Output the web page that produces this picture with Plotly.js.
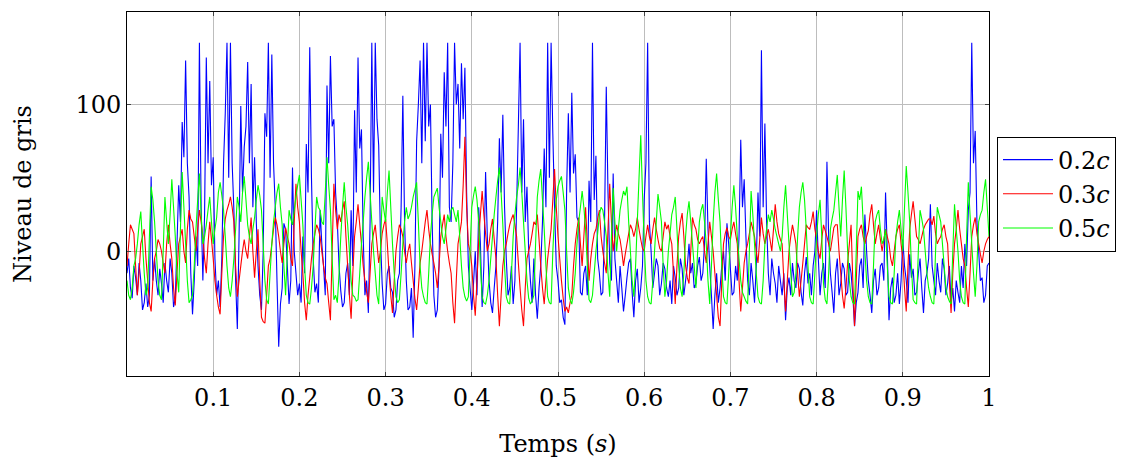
<!DOCTYPE html>
<html>
<head>
<meta charset="utf-8">
<script src="https://cdn.plot.ly/plotly-3.0.1.min.js"></script>
<style>
html,body{margin:0;padding:0;background:#fff;}
#chart{width:1123px;height:460px;}
</style>
</head>
<body>
<div id="chart"></div>
<script>
// Series values (Niveau de gris), sampled uniformly over 0..1 s (501 samples each)
const seriesNames = ["0.2<i>c</i>", "0.3<i>c</i>", "0.5<i>c</i>"];
const seriesColors = ["#0000ff", "#ff0000", "#00ff00"];

const blue = [
  -15, -5, -25, -32, -10, -18, -30, -8, -20, -40, -35, -22, -38, -30, 51, -20, -5, -20, -30, -12,
  -22, -35, -8, -20, -28, -5, -15, -38, -32, 5, 45, 20, 88, 64, 130, 60, 37, -15, -43, -20,
  10, -10, 142, 30, -20, 25, 132, 60, 116, 45, 64, -5, -30, -20, -38, -5, 60, 94, 142, 50,
  142, 60, 28, -20, -53, 10, 99, 40, 71, 85, 129, 60, 114, 30, 64, 20, -10, -30, -40, 0,
  94, 78, 142, 50, 134, 60, 30, -20, -65, -36, -25, 19, 15, -10, -36, -20, 57, 0, -15, -30,
  -22, -35, 10, -15, 73, 40, 139, 50, -5, -28, -22, -35, 28, 5, -10, -30, 113, 60, 133, 85,
  90, 40, 20, -10, -27, -38, -35, -15, -8, -30, 28, -10, 96, 40, 132, 70, 83, 10, -30, -20,
  -42, 20, 142, 40, 142, 90, 72, 10, -22, -40, -36, -15, -10, -25, -28, -45, -40, -20, -15, 30,
  106, 20, -20, -40, -38, -25, -59, -10, 75, 100, 130, 60, 142, 75, 142, 85, 100, 20, -30, -45,
  -40, -10, 80, 50, 122, 85, 142, 30, 20, 60, 142, 100, 114, 70, 128, 90, 125, 40, -10, -25,
  -40, -22, 0, -30, 30, 5, -38, -10, 54, 10, -20, -35, -42, -25, -10, 20, 77, 40, 93, 30,
  -5, -30, -25, -10, -36, -20, 30, 85, 142, 40, 90, 20, 44, 0, -20, -35, -5, -30, -46, -25,
  -10, 20, 70, 30, 142, 50, 142, 80, 30, -10, -20, -35, -33, -45, -50, 41, 94, 40, 108, 53,
  66, 23, 20, -28, -30, -15, -10, -30, 48, 20, 142, 35, 65, -5, -15, -30, -28, 20, 112, 40,
  -8, -20, 53, -5, -20, -35, -10, -25, -41, -30, -18, -8, -5, -28, -45, -20, -12, -35, -25, -10,
  35, 60, 142, 20, 0, -25, -15, -5, -10, -30, -22, -8, -12, -25, -31, -20, -36, -10, -18, -30,
  -25, -5, -12, -30, -20, -10, 5, -15, -8, -25, -22, -10, -4, -20, -15, 5, 63, 15, -10, -30,
  -53, -30, -15, -35, -25, -10, 0, -20, 19, 5, -12, -30, -28, -10, -20, 10, 76, 30, 49, 10,
  -20, -30, -8, -20, -35, -10, 40, 10, 137, 30, 87, 20, -15, -30, -5, -15, -22, -35, -10, -20,
  -30, -15, -47, -25, -18, -30, -8, -20, -25, -8, -12, -28, -37, -15, -4, -22, -15, -30, -10, 0,
  28, -5, -30, -15, -8, -25, 61, 10, -15, -28, -42, -15, -5, -30, -22, -8, -12, -30, -28, -8,
  -15, -30, -51, -35, -28, -10, -5, -25, 25, 0, -20, -30, -42, -20, -12, -30, -25, -10, -8, -20,
  40, 0, -47, -25, -18, -35, -30, -15, -36, -20, 8, -10, -20, -35, -2, -18, -12, -30, -28, -15,
  -5, -25, -42, -20, -15, -5, 32, -10, -20, -30, -8, -20, -28, -5, -12, -30, -22, -10, -35, -25,
  -41, -20, -28, -35, -10, -25, 5, -10, 28, 40, 142, 60, 82, 20, 0, -20, -18, -35, -30, -10, -8
];

const red = [
  -10, 5, 18, 15, 12, -10, -30, -15, 5, 10, 15, -5, -20, -35, -41, -20, -5, 0, 8, 5,
  0, -8, -15, 5, 18, 5, -5, -25, -37, -15, 5, 10, 15, 0, -8, 15, 28, 22, 20, 10,
  0, 15, 28, 20, 10, -5, -15, 5, 20, 8, -5, -20, -30, -38, -43, -15, 10, 22, 28, 32,
  37, 30, 20, -10, -31, -20, -10, 0, 8, 0, -5, 10, 23, 0, -18, 0, 15, -20, -45, -48,
  -49, -30, -10, -5, 5, 15, 23, 18, 10, 0, -8, 5, 16, 10, 5, -5, -10, 20, 46, 30,
  20, 0, -15, -35, -47, -30, -18, -5, 5, 12, 18, 15, 10, 0, -10, -18, -22, -35, -47, 0,
  46, 28, 15, 25, 20, 28, 34, 10, -10, -30, -46, -15, 10, 20, 32, 18, 5, -10, -20, -28,
  -35, -15, 5, 12, 18, 5, -8, 0, 12, 18, 22, 5, -15, -30, -42, -20, 0, 10, 18, 15,
  10, 0, -8, 0, 5, -8, -20, -32, -40, -25, -8, 0, 10, 20, 28, 15, 5, -2, -8, -15,
  -25, -10, 10, 18, 25, 10, 0, -8, -15, -35, -49, -20, 5, 12, 20, 45, 78, 30, 5, 0,
  -10, -30, -44, -20, 8, 25, 41, 25, 12, 0, 5, 15, 22, 8, -5, -30, -51, -30, -10, 0,
  5, 12, 18, 22, 25, 18, 10, -8, -25, -40, -51, -25, -5, 0, 5, 12, 20, 18, 25, 8,
  -10, -25, -36, -20, -5, 5, 15, 35, 56, 30, 10, -5, -20, -32, -41, -38, -42, -35, -30, -10,
  5, 15, 23, 5, -10, 10, 30, 5, -20, -5, 5, 12, 15, 22, 28, 10, 0, -8, -15, 15,
  46, 20, 0, 10, 18, 12, 8, 0, -10, -2, 5, 12, 18, 15, 10, 15, 23, 15, 8, 2,
  0, 10, 18, 10, 5, 15, 23, 15, 8, 2, 0, 10, 20, 15, 18, 10, 5, -15, -36, -10,
  10, 20, 26, 10, -10, -18, -22, 0, 23, 18, 15, 8, 5, 8, 10, 0, -8, 5, 20, 10,
  0, -15, -30, -45, -51, -20, 5, 12, 16, 10, 8, 15, 20, 12, 5, -20, -41, -25, -8, 0,
  5, 12, 20, 15, 10, 0, -8, 8, 23, 12, 5, 10, 15, 8, 0, 15, 32, 20, 12, 8,
  5, -20, -41, -20, 0, 10, 18, 12, 5, -15, -31, -20, -8, 5, 18, 16, 15, 20, 27, 15,
  8, 0, -5, 8, 18, 14, 10, 5, 0, 8, 16, 18, 18, 0, -15, -30, -39, -25, -8, 5,
  18, -20, -51, -20, 10, 15, 18, 10, 5, 10, 14, 25, 32, 18, 5, 12, 18, 8, 0, 8,
  15, 10, 5, -5, -10, 0, 10, 15, 18, 5, -5, -25, -41, -10, 15, 25, 34, 22, 10, 8,
  5, 10, 15, 18, 20, 22, 22, 18, 24, 12, 5, 8, 10, 15, 18, 10, 5, -20, -42, -15,
  5, 15, 28, 15, 5, -5, -10, -25, -38, -15, 10, 18, 23, 12, 5, -2, -8, 0, 5, 8, 10
];

const green = [
  -20, -30, -33, -25, -10, -5, 5, 18, 27, 5, -15, -30, -25, 10, 44, 35, 20, 0, -20, -30,
  -33, 0, 37, 20, 5, 25, 49, 30, 10, -15, -28, 15, 54, 30, 5, -20, -35, -33, -30, -10,
  15, 35, 53, 25, 5, 10, 18, 28, 37, 20, 5, 15, 23, 40, 47, 38, 28, 10, -10, -25,
  -31, -20, -5, 15, 37, 30, 20, 40, 51, 35, 18, 10, 5, 15, 23, 35, 45, 38, 28, 5,
  -20, -33, -36, -15, 5, 20, 30, 40, 46, 30, 18, -10, -30, 0, 28, 22, 18, 28, 37, 45,
  52, 35, 18, -10, -30, -35, -36, -25, -10, 15, 37, 30, 28, 20, 18, 40, 64, 45, 28, -5,
  -33, -30, -35, -15, 10, 30, 47, 30, 18, 0, -20, -30, -31, -34, -33, -15, 5, 20, 37, 50,
  61, 40, 20, 0, -15, -30, -36, 0, 37, 28, 20, 40, 55, 30, 5, -15, -31, -35, -33, -15,
  5, 20, 30, 22, 25, 30, 37, 42, 47, 20, -10, -25, -31, -35, -36, -15, 10, 25, 37, 40,
  43, 30, 20, 10, 5, 15, 25, 20, 28, 30, 25, 20, 28, 10, -10, -25, -31, -34, -31, 0,
  30, 38, 44, 35, 20, -10, -31, -35, -36, -30, -20, -5, 10, 25, 37, 48, 57, 40, 18, -10,
  -31, -35, -36, -15, 10, 25, 37, 45, 57, 40, 20, 0, -20, -32, -36, -34, -30, 5, 37, 48,
  56, 35, 15, -10, -31, -35, -36, 0, 25, 35, 44, 48, 51, 40, 28, 0, -25, -33, -36, -28,
  -15, 5, 20, 30, 41, 30, 15, -10, -33, -35, -30, -15, 0, 12, 25, 30, 28, 20, 10, -15,
  -31, 10, 43, 20, 0, 15, 28, 35, 41, 38, 44, 20, 0, -20, -31, -10, 20, 50, 79, 40,
  5, -20, -31, -35, -36, -20, 0, 20, 39, 30, 20, -10, -31, -20, 0, 12, 25, 30, 37, 15,
  -10, -25, -31, -15, 10, 25, 34, 20, 5, -10, -25, 0, 20, 28, 32, 20, 5, -20, -36, -10,
  20, 40, 53, 35, 20, -10, -31, -35, -36, -15, 10, 30, 45, 30, 10, -5, -20, -28, -31, -34,
  -36, 0, 41, 25, 5, -15, -31, -35, -36, -20, 5, 15, 25, 20, 28, 22, 15, 10, 5, 0,
  10, 30, 45, 25, 5, -15, -31, -28, -15, 10, 30, 40, 47, 35, 15, -10, -31, -35, -36, -15,
  10, 25, 35, 10, -22, -33, -36, -15, 15, 22, 28, 40, 52, 30, 10, 35, 55, 30, 0, -20,
  -31, -35, -36, 0, 41, 35, 44, 20, 0, -20, -31, -35, -36, -10, 20, 25, 28, 15, 5, 8,
  15, -10, -31, -35, -36, -15, 10, 20, 28, 15, 0, 30, 58, 40, 20, -10, -33, -35, -36, 0,
  28, 22, 15, 0, -15, -25, -31, -35, -36, 0, 30, 25, 20, 5, -10, -25, -31, -34, -36, 0,
  32, 15, 0, -20, -31, -35, -36, 10, 47, 25, 5, -15, -31, -10, 20, 25, 28, 40, 49, 30, 10
];

const xTickVals = [0.1, 0.2, 0.3, 0.4, 0.5, 0.6, 0.7, 0.8, 0.9, 1];
const xTickText = ["0.1", "0.2", "0.3", "0.4", "0.5", "0.6", "0.7", "0.8", "0.9", "1"];
const yTickVals = [0, 100];
const yTickText = ["0", "100"];

const tStart = 0, tEnd = 1;
function timeAxis(n) {
  const out = [];
  for (let i = 0; i < n; i++) out.push(tStart + (tEnd - tStart) * i / (n - 1));
  return out;
}

const allSeries = [blue, red, green];
const traces = allSeries.map((vals, k) => ({
  x: timeAxis(vals.length),
  y: vals,
  type: "scatter",
  mode: "lines",
  name: seriesNames[k],
  line: {color: seriesColors[k], width: 1.1, simplify: false}
}));

const FONT = "'DejaVu Serif', 'Liberation Serif', serif";
const FS = 24;

// Page geometry: plot box from x=127 to x=989, legend just right of it
const W = 1123, H = 460, ML = 127, MR = 4, PLOT_RIGHT = 989, LEG_LEFT = 997;
const innerW = W - ML - MR;

const layout = {
  width: W,
  height: H,
  margin: {l: ML, r: MR, t: 12, b: 84},
  paper_bgcolor: "#ffffff",
  plot_bgcolor: "#ffffff",
  font: {family: FONT, size: FS, color: "#000"},
  showlegend: true,
  legend: {
    x: (LEG_LEFT - ML) / innerW, xanchor: "left",
    y: 0.5, yanchor: "middle",
    bordercolor: "#000", borderwidth: 1,
    bgcolor: "#fff",
    itemwidth: 50,
    font: {family: FONT, size: FS, color: "#000"},
    tracegroupgap: 0
  },
  xaxis: {
    domain: [0, (PLOT_RIGHT - ML) / innerW],
    range: [0, 1],
    tickvals: xTickVals,
    ticktext: xTickText,
    ticks: "inside",
    ticklen: 4,
    tickcolor: "#444",
    showline: true,
    linecolor: "#000",
    linewidth: 1,
    mirror: "ticks",
    showgrid: true,
    gridcolor: "#bdbdbd",
    gridwidth: 1,
    zeroline: false,
    tickfont: {family: FONT, size: FS},
    title: {text: "Temps (<i>s</i>)", font: {family: FONT, size: FS}, standoff: 24}
  },
  yaxis: {
    range: [-85, 163],
    tickvals: yTickVals,
    ticktext: yTickText,
    ticks: "inside",
    ticklen: 4,
    tickcolor: "#444",
    showline: true,
    linecolor: "#000",
    linewidth: 1,
    mirror: "ticks",
    showgrid: true,
    gridcolor: "#bdbdbd",
    gridwidth: 1,
    zeroline: false,
    tickfont: {family: FONT, size: FS},
    title: {text: "Niveau de gris", font: {family: FONT, size: FS}, standoff: 36}
  }
};

Plotly.newPlot("chart", traces, layout, {staticPlot: true, displayModeBar: false});
</script>
</body>
</html>
